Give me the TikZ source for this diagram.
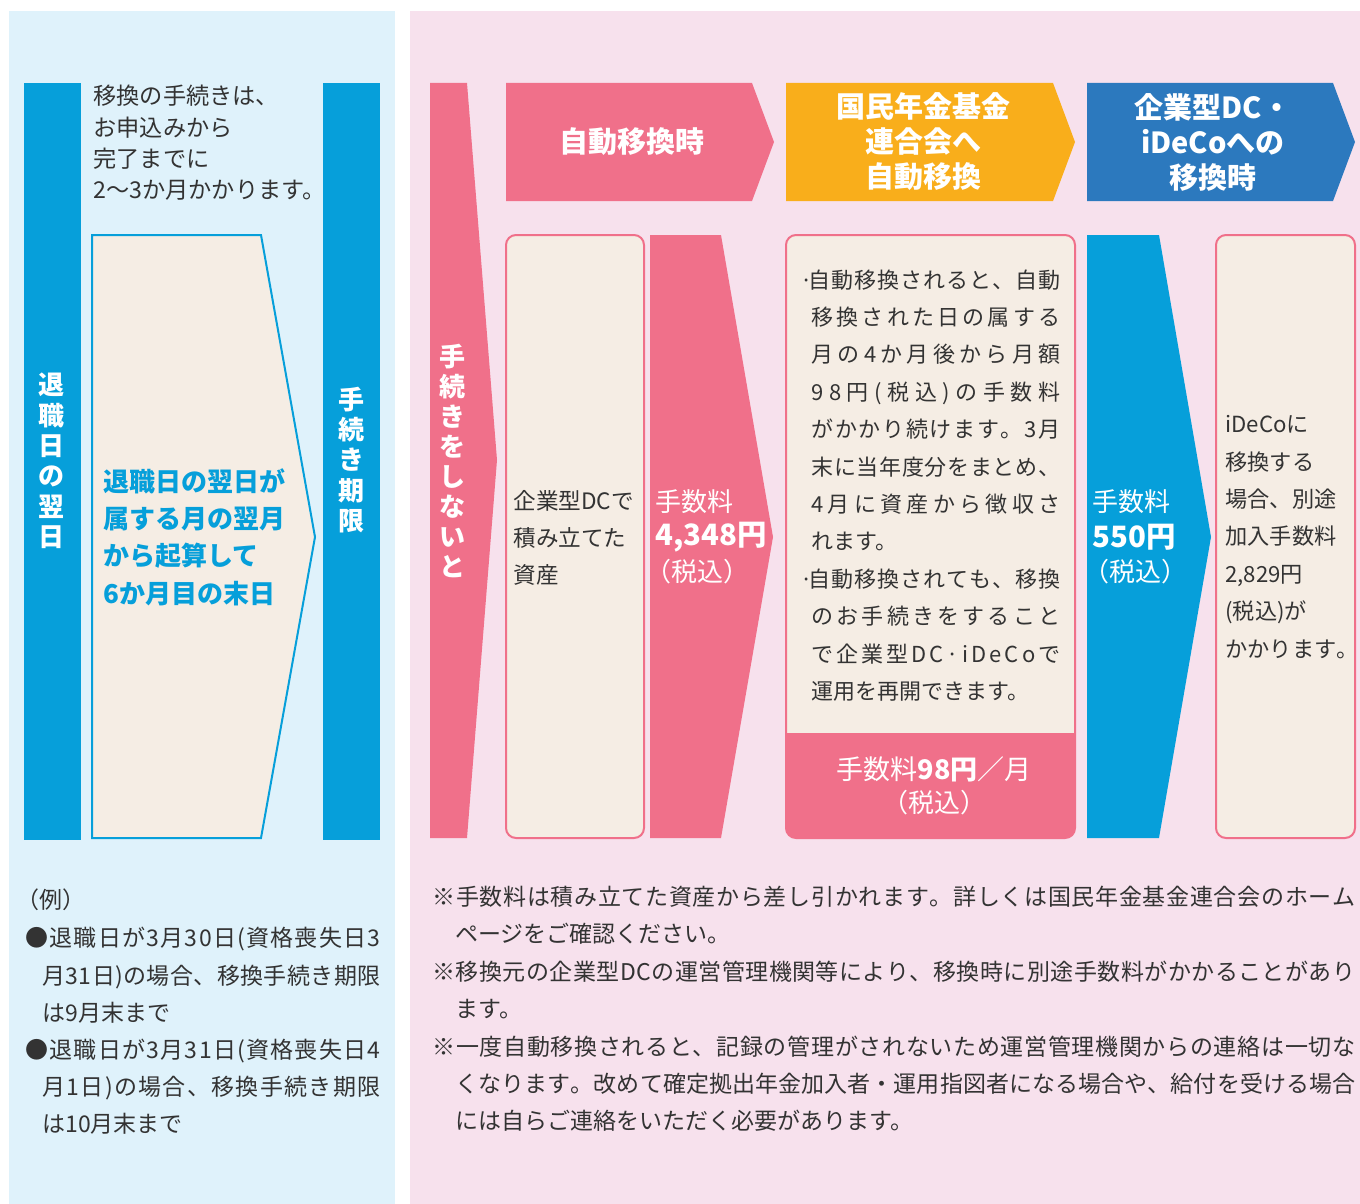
\documentclass[tikz,border=0pt]{standalone}
\usepackage{fontspec}
\setmainfont{Noto Sans CJK JP}
\newdimen\pxu \pxu=0.5pt
\makeatletter
\def\jl@first#1{#1\jl@rest}
\def\jl@rest#1{\ifx#1\relax\else\hskip0pt plus 1fil\relax#1\expandafter\jl@rest\fi}
\newcommand\jl[2]{\makebox[#1\pxu][s]{\jl@first#2\relax}}
\makeatother
\newcommand\fs[2]{\fontsize{#1pt}{#2pt}\selectfont}
\definecolor{pinkc}{HTML}{F0708A}
\definecolor{bluebar}{HTML}{069FDA}
\definecolor{orangec}{HTML}{F9AE1B}
\definecolor{dblue}{HTML}{2C79BE}
\definecolor{lbg}{HTML}{DFF2FB}
\definecolor{pbg}{HTML}{F7E1ED}
\definecolor{cream}{HTML}{F5EDE4}
\definecolor{txtc}{HTML}{333333}
\tikzset{
  txt/.style={text=txtc, inner sep=0pt, align=left, anchor=west},
  wtxt/.style={text=white, inner sep=0pt, align=center},
  vtxt/.style={text=white, inner sep=0pt, align=center, font=\fs{13}{15.2}\bfseries},
  hdr/.style={text=white, inner sep=0pt, align=center, font=\fs{14.5}{17.5}\bfseries},
  creambox/.style={draw=pinkc, line width=1pt, fill=cream, rounded corners=5pt},
}
\begin{document}
\begin{tikzpicture}[x=0.5pt,y=-0.5pt]
\useasboundingbox (0,0) rectangle (1360,1204);
\fill[white] (0,0) rectangle (1360,1204);
\fill[lbg] (9,11) rectangle (395,1204);
\fill[pbg] (410,11) rectangle (1360,1204);

% ---------- left panel ----------
\fill[bluebar] (24,83) rectangle (81,840);
\fill[bluebar] (323,83) rectangle (380,840);
\draw[bluebar, line width=1pt, fill=cream] (92,235) -- (261,235) -- (315,537) -- (261,838) -- (92,838) -- cycle;

\node[vtxt] (retire) at (52,461) {退\\職\\日\\の\\翌\\日};
\node[vtxt] (deadline) at (351,460) {手\\続\\き\\期\\限};
\node[txt, font=\fs{11.6}{15.7}] (procnote) at (93,143) {移換の手続きは、\\お申込みから\\完了までに\\2〜3か月かかります。};
\node[txt, text=bluebar, font=\fs{13}{18.7}\bfseries] (period) at (103,537) {退職日の翌日が\\属する月の翌月\\から起算して\\6か月目の末日};

\node[txt, font=\fs{11.5}{18.5}] (exlabel) at (16,900) {（例）};
\node[txt, font=\fs{11.5}{18.6}] (examples) at (25,1031) {%
\jl{355}{●退職日が3月30日(資格喪失日3}\\
\hspace{17\pxu}\jl{338}{月31日)の場合、移換手続き期限}\\
\hspace{17\pxu}は9月末まで\\
\jl{355}{●退職日が3月31日(資格喪失日4}\\
\hspace{17\pxu}\jl{338}{月1日)の場合、移換手続き期限}\\
\hspace{17\pxu}は10月末まで};

% ---------- right panel ----------
\fill[pinkc] (430,83) -- (467,83) -- (497,460) -- (467,838) -- (430,838) -- cycle;
\node[vtxt, font=\fs{13}{15}\bfseries] (noproc) at (452,461) {手\\続\\き\\を\\し\\な\\い\\と};

\fill[pinkc] (506,83) -- (752,83) -- (774,142) -- (752,201) -- (506,201) -- cycle;
\fill[orangec] (786,83) -- (1053,83) -- (1075,142) -- (1053,201) -- (786,201) -- cycle;
\fill[dblue] (1087,83) -- (1333,83) -- (1355,142) -- (1333,201) -- (1087,201) -- cycle;
\node[hdr] (h1) at (632,142) {自動移換時};
\node[hdr] (h2) at (923,142) {国民年金基金\\連合会へ\\自動移換};
\node[hdr] (h3) at (1213,142) {企業型DC・\\iDeCoへの\\移換時};

% asset box
\draw[creambox] (506,235) rectangle (644,838);
\node[txt, font=\fs{11.3}{18.5}] (asset) at (513,538) {企業型DCで\\積み立てた\\資産};

% 4,348 chevron
\fill[pinkc] (650,235) -- (721,235) -- (773,537) -- (721,838) -- (650,838) -- cycle;
\node[wtxt, anchor=west, font=\fs{13}{15}] (fee1a) at (655,502) {手数料};
\node[wtxt, anchor=west, font=\fs{14.7}{15}\bfseries] (fee1b) at (655,537) {4,348円};
\node[wtxt, anchor=west, font=\fs{13}{15}] (fee1c) at (645,572) {（税込）};

% auto transfer box
\fill[cream, rounded corners=5pt] (786,235) rectangle (1075,838);
\begin{scope}
\clip[rounded corners=5pt] (786,235) rectangle (1075,838);
\fill[pinkc] (786,733) rectangle (1075,838);
\end{scope}
\draw[pinkc, line width=1pt, rounded corners=5pt] (786,235) rectangle (1075,838);
\node[txt, font=\fs{11}{18.7}] (autonote) at (800,485.5) {%
\makebox[8\pxu][l]{·}\jl{252}{自動移換されると、自動}\\
\hspace{11\pxu}\jl{249}{移換された日の属する}\\
\hspace{11\pxu}\jl{249}{月の4か月後から月額}\\
\hspace{11\pxu}\jl{249}{98円(税込)の手数料}\\
\hspace{11\pxu}\jl{249}{がかかり続けます。3月}\\
\hspace{11\pxu}\jl{249}{末に当年度分をまとめ、}\\
\hspace{11\pxu}\jl{249}{4月に資産から徴収さ}\\
\hspace{11\pxu}れます。\\
\makebox[8\pxu][l]{·}\jl{252}{自動移換されても、移換}\\
\hspace{11\pxu}\jl{249}{のお手続きをすること}\\
\hspace{11\pxu}\jl{249}{で企業型DC·iDeCoで}\\
\hspace{11\pxu}運用を再開できます。};
\node[wtxt, font=\fs{13.5}{15}] (monthly) at (934,769) {手数料\textbf{98円}／月};
\node[wtxt, font=\fs{13}{15}] (monthlytax) at (934,803) {（税込）};

% 550 chevron
\fill[bluebar] (1087,235) -- (1159,235) -- (1211,537) -- (1159,838) -- (1087,838) -- cycle;
\node[wtxt, anchor=west, font=\fs{13}{15}] (fee2a) at (1092,502) {手数料};
\node[wtxt, anchor=west, font=\fs{14.7}{15}\bfseries] (fee2b) at (1092,537) {550円};
\node[wtxt, anchor=west, font=\fs{13}{15}] (fee2c) at (1083,572) {（税込）};

% iDeCo box
\draw[creambox] (1216,235) rectangle (1355,838);
\node[txt, font=\fs{11.1}{18.7}] (ideco) at (1225,537) {iDeCoに\\移換する\\場合、別途\\加入手数料\\2,829円\\(税込)が\\かかります\makebox[10\pxu][l]{。}};

% footnotes
\node[txt, font=\fs{11.5}{18.7}] (notes) at (432,1009) {%
\jl{923}{※手数料は積み立てた資産から差し引かれます。詳しくは国民年金基金連合会のホーム}\\
\hspace{23\pxu}ページをご確認ください。\\
\jl{923}{※移換元の企業型DCの運営管理機関等により、移換時に別途手数料がかかることがあり}\\
\hspace{23\pxu}ます。\\
\jl{923}{※一度自動移換されると、記録の管理がされないため運営管理機関からの連絡は一切な}\\
\hspace{23\pxu}\jl{900}{くなります。改めて確定拠出年金加入者・運用指図者になる場合や、給付を受ける場合}\\
\hspace{23\pxu}には自らご連絡をいただく必要があります。};
\end{tikzpicture}
\end{document}
